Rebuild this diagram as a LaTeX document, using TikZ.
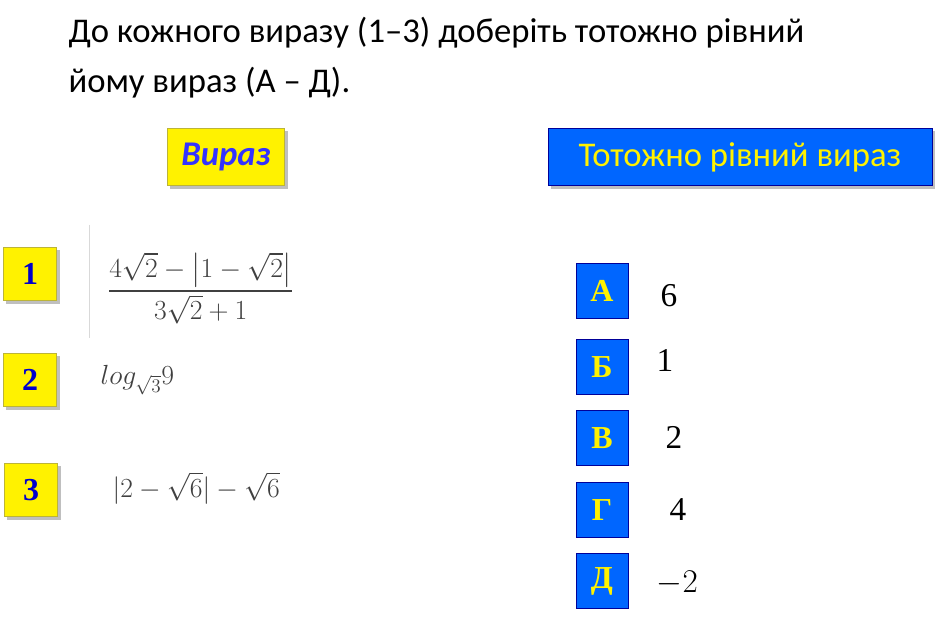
\documentclass[tikz,border=0pt]{standalone}
\usepackage{amsmath}
\usepackage{fontspec}
\setsansfont{Carlito}
\newfontfamily\timesfont{Liberation Serif}
\tikzset{
  pic px/.style={x=0.75pt,y=-0.75pt},
  numbox/.style={draw=yellow!70!black, fill=yellow, minimum width=40pt, minimum height=40pt,
    inner sep=0pt, text=blue!80!black, font=\timesfont\bfseries\fontsize{24}{24}\selectfont, drop shadow},
  letbox/.style={draw=blue!60!black, fill={rgb,255:red,0;green,102;blue,255}, minimum width=39pt, minimum height=41pt,
    inner sep=0pt, text=yellow, font=\timesfont\bfseries\fontsize{24}{24}\selectfont},
  value/.style={anchor=west, font=\timesfont\fontsize{25}{25}\selectfont},
  expr/.style={anchor=west, text=black!75, font=\fontsize{22}{22}\selectfont}
}
\usetikzlibrary{shadows}
\begin{document}
\begin{tikzpicture}[pic px]
  \useasboundingbox (0,0) rectangle (940,623);

  % task text
  \node[anchor=north west, align=left, font=\sffamily\fontsize{26}{38}\selectfont] (task) at (64,12)
    {До кожного виразу (1--3) доберіть тотожно рівний\\йому вираз (А -- Д).};

  % headers
  \node[fill=yellow, draw=yellow!70!black, minimum width=88pt, minimum height=43pt, drop shadow,
    text=blue!80!white, font=\sffamily\bfseries\itshape\fontsize{26}{26}\selectfont] (hexpr) at (226,157) {Вираз};
  \node[fill={rgb,255:red,0;green,102;blue,255}, draw=blue!60!black, minimum width=288pt, minimum height=43pt,
    drop shadow, text=yellow, font=\sffamily\fontsize{26}{26}\selectfont] (hequal) at (740,157) {Тотожно рівний вираз};

  % left column
  \node[numbox] (n1) at (30,274) {1};
  \node[numbox] (n2) at (30,380) {2};
  \node[numbox] (n3) at (31,490) {3};
  \draw[black!15] (89,225) -- (89,338);
  \node[expr] (e1) at (103,288) {$\dfrac{4\sqrt{2}-\bigl|1-\sqrt{2}\bigr|}{3\sqrt{2}+1}$};
  \node[expr] (e2) at (96,380) {$log_{\sqrt{3}}9$};
  \node[expr] (e3) at (108,488) {$|2-\sqrt{6}|-\sqrt{6}$};

  % right column
  \node[letbox] (la) at (602,291) {А};
  \node[letbox] (lb) at (602,367) {Б};
  \node[letbox] (lv) at (602,438) {В};
  \node[letbox] (lg) at (602,510) {Г};
  \node[letbox] (ld) at (602,581) {Д};
  \node[value] (va) at (656,296) {6};
  \node[value] (vb) at (652,360) {1};
  \node[value] (vv) at (661,437) {2};
  \node[value] (vg) at (665,510) {4};
  \node[value] (vd) at (652,583) {$-2$};
\end{tikzpicture}
\end{document}
